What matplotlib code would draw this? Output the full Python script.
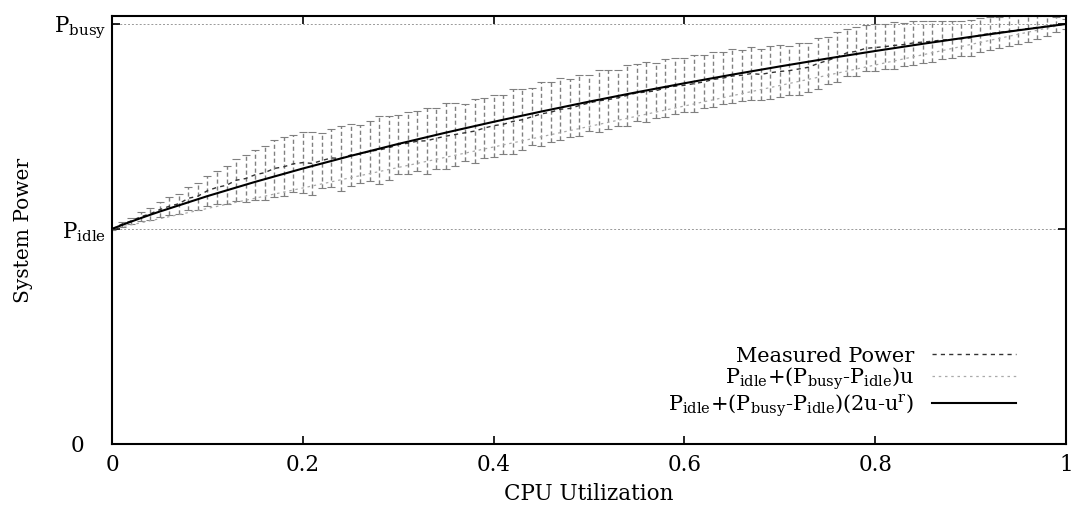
import numpy as np
import matplotlib.pyplot as plt
from matplotlib.transforms import ScaledTranslation

plt.rcParams['font.family'] = ['DejaVu Serif']
plt.rcParams['mathtext.fontset'] = 'dejavuserif'

# power levels (arbitrary units, P_busy = 1)
P_IDLE = 0.512
P_BUSY = 1.0

# measured power vs utilization
util = [i / 100 for i in range(101)]
meas = [0.512, 0.523, 0.531, 0.541, 0.548, 0.558, 0.566, 0.572, 0.585, 0.590,
        0.603, 0.611, 0.616, 0.628, 0.632, 0.641, 0.646, 0.656, 0.660, 0.667,
        0.670, 0.668, 0.675, 0.681, 0.680, 0.688, 0.690, 0.697, 0.700, 0.705,
        0.713, 0.716, 0.721, 0.722, 0.728, 0.733, 0.737, 0.741, 0.745, 0.752,
        0.758, 0.761, 0.768, 0.772, 0.779, 0.786, 0.790, 0.797, 0.799, 0.806,
        0.812, 0.817, 0.820, 0.824, 0.830, 0.836, 0.838, 0.841, 0.848, 0.852,
        0.854, 0.858, 0.862, 0.868, 0.871, 0.876, 0.878, 0.882, 0.880, 0.884,
        0.887, 0.889, 0.893, 0.897, 0.906, 0.913, 0.921, 0.931, 0.935, 0.942,
        0.944, 0.946, 0.949, 0.951, 0.955, 0.957, 0.959, 0.962, 0.963, 0.965,
        0.967, 0.974, 0.977, 0.980, 0.983, 0.986, 0.989, 0.992, 0.995, 0.998,
        1.000]
err = [0.003, 0.006, 0.008, 0.011, 0.014, 0.018, 0.021, 0.024, 0.028, 0.032,
       0.036, 0.040, 0.045, 0.050, 0.055, 0.060, 0.064, 0.068, 0.070, 0.068,
       0.072, 0.075, 0.066, 0.070, 0.078, 0.074, 0.069, 0.072, 0.080, 0.076,
       0.070, 0.074, 0.071, 0.078, 0.073, 0.079, 0.075, 0.068, 0.077, 0.072,
       0.074, 0.070, 0.078, 0.073, 0.068, 0.076, 0.071, 0.074, 0.069, 0.072,
       0.067, 0.073, 0.070, 0.066, 0.072, 0.068, 0.071, 0.065, 0.069, 0.067,
       0.064, 0.068, 0.063, 0.066, 0.062, 0.065, 0.061, 0.064, 0.060, 0.063,
       0.062, 0.059, 0.061, 0.058, 0.060, 0.057, 0.059, 0.056, 0.058, 0.055,
       0.057, 0.054, 0.056, 0.052, 0.053, 0.050, 0.049, 0.046, 0.045, 0.042,
       0.043, 0.040, 0.040, 0.037, 0.036, 0.034, 0.031, 0.027, 0.023, 0.018,
       0.012]

model_u = [0.0, 0.01, 0.02, 0.03, 0.04, 0.05, 0.1, 0.15, 0.2, 0.25, 0.3, 0.35, 0.4,
           0.45, 0.5, 0.55, 0.6, 0.65, 0.7, 0.75, 0.8, 0.85, 0.9, 0.95, 1.0]
model_p = [0.512, 0.521, 0.5295, 0.5377, 0.5457, 0.5534, 0.5902, 0.6241, 0.6559,
           0.6859, 0.7144, 0.7414, 0.7671, 0.7916, 0.8151, 0.8375, 0.8589, 0.8794,
           0.8990, 0.9178, 0.9357, 0.9529, 0.9693, 0.9850, 1.0]

lin_u = [0.0, 1.0]
lin_p = [P_IDLE, P_BUSY]

fig = plt.figure(figsize=(10.73, 5.07), dpi=100)
ax = fig.add_axes([0.1044, 0.1243, 0.8891, 0.8441])

ax.axhline(P_IDLE, color='#999999', lw=0.7, ls=(0, (2, 2)), zorder=1)
ax.axhline(P_BUSY, color='#999999', lw=0.7, ls=(0, (2, 2)), zorder=1)

eb = ax.errorbar(util, meas, yerr=err, fmt='none', ecolor='#808080',
                 elinewidth=1.0, capsize=3, capthick=0.8, zorder=2)
eb[2][0].set_linestyle((0, (3, 2)))
ax.plot(util, meas, color='#333333', lw=1.0, ls=(0, (3, 3)), zorder=3,
        label='Measured Power')
ax.plot(lin_u, lin_p, color='#aaaaaa', lw=0.9, ls=(0, (2, 3)), zorder=3,
        label=r'P$_{\mathrm{idle}}$+(P$_{\mathrm{busy}}$-P$_{\mathrm{idle}}$)u')
ax.plot(model_u, model_p, color='black', lw=1.5, zorder=4,
        label=r'P$_{\mathrm{idle}}$+(P$_{\mathrm{busy}}$-P$_{\mathrm{idle}}$)(2u-u$^{\mathrm{r}}$)')

ax.set_xlim(0, 1)
ax.set_ylim(0, 1.019)
ax.set_xticks([0, 0.2, 0.4, 0.6, 0.8, 1.0])
ax.set_xticklabels(['0', '0.2', '0.4', '0.6', '0.8', '1'])
ax.set_yticks([0, P_IDLE, P_BUSY])
ax.set_yticklabels(['0', r'P$_{\mathrm{idle}}$', r'P$_{\mathrm{busy}}$'])
ax.tick_params(direction='in', length=6, width=1.2, labelsize=15.5,
               top=True, right=True)
ax.tick_params(axis='x', pad=7)
ax.tick_params(axis='y', pad=4)
zero_lab = ax.get_yticklabels()[0]
zero_lab.set_transform(zero_lab.get_transform()
                       + ScaledTranslation(-0.22, 0, fig.dpi_scale_trans))
for s in ax.spines.values():
    s.set_linewidth(1.5)

ax.set_xlabel('CPU Utilization', fontsize=15.5, labelpad=5)
ax.set_ylabel('System Power', fontsize=14.5)
ax.yaxis.set_label_coords(-0.083, 0.5)

ax.legend(loc='lower right', bbox_to_anchor=(0.958, 0.035), frameon=False,
          markerfirst=False, fontsize=15, handlelength=4.0, handletextpad=0.85,
          labelspacing=0.0, borderpad=0)

fig.savefig('out.png', dpi=100)
